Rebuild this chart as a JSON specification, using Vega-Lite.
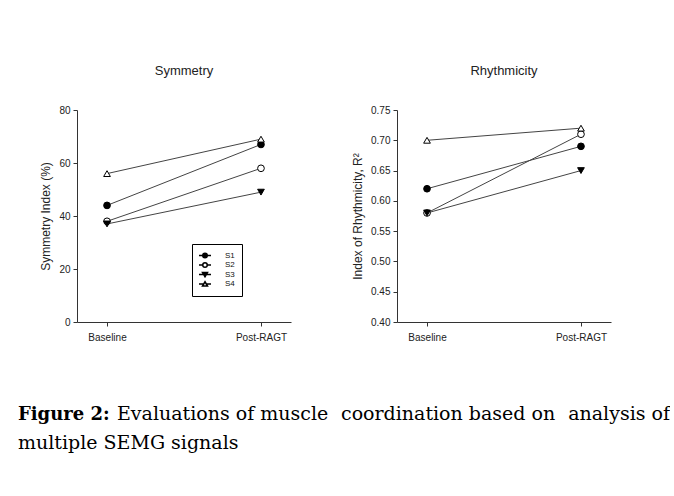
{
  "$schema": "https://vega.github.io/schema/vega-lite/v6.json",
  "background": "white",
  "padding": {"left": 18, "top": 65, "right": 0, "bottom": 0},
  "bounds": "flush",
  "spacing": 106,
  "datasets": {
    "sym": [
      {"subject": "S1", "phase": "Baseline", "value": 44},
      {"subject": "S1", "phase": "Post-RAGT", "value": 67},
      {"subject": "S2", "phase": "Baseline", "value": 38},
      {"subject": "S2", "phase": "Post-RAGT", "value": 58},
      {"subject": "S3", "phase": "Baseline", "value": 37},
      {"subject": "S3", "phase": "Post-RAGT", "value": 49},
      {"subject": "S4", "phase": "Baseline", "value": 56},
      {"subject": "S4", "phase": "Post-RAGT", "value": 69}
    ],
    "rhy": [
      {"subject": "S1", "phase": "Baseline", "value": 0.62},
      {"subject": "S1", "phase": "Post-RAGT", "value": 0.69},
      {"subject": "S2", "phase": "Baseline", "value": 0.58},
      {"subject": "S2", "phase": "Post-RAGT", "value": 0.71},
      {"subject": "S3", "phase": "Baseline", "value": 0.58},
      {"subject": "S3", "phase": "Post-RAGT", "value": 0.65},
      {"subject": "S4", "phase": "Baseline", "value": 0.70},
      {"subject": "S4", "phase": "Post-RAGT", "value": 0.72}
    ]
  },
  "resolve": {"scale": {"shape": "independent", "fill": "independent"}},
  "hconcat": [
    {
      "width": 214,
      "height": 212,
      "data": {"name": "sym"},
      "title": {"text": "Symmetry"},
      "resolve": {"scale": {"shape": "independent", "fill": "independent"}},
      "layer": [
        {
          "mark": {"type": "line", "color": "#444", "strokeWidth": 1},
          "encoding": {
            "x": {"field": "phase", "type": "nominal", "sort": ["Baseline", "Post-RAGT"], "scale": {"type": "point", "padding": 0.195}, "axis": {"title": null, "labelAngle": 0}},
            "y": {"field": "value", "type": "quantitative", "scale": {"domain": [0, 80], "nice": false}, "axis": {"values": [0, 20, 40, 60, 80], "title": "Symmetry Index (%)"}},
            "detail": {"field": "subject"}
          }
        },
        {
          "mark": {"type": "point", "filled": false, "color": "black", "strokeWidth": 1, "size": 45, "opacity": 1},
          "encoding": {
            "x": {"field": "phase", "type": "nominal", "sort": ["Baseline", "Post-RAGT"], "axis": {"title": null, "labelAngle": 0}},
            "y": {"field": "value", "type": "quantitative", "axis": {"values": [0, 20, 40, 60, 80], "title": "Symmetry Index (%)"}},
            "shape": {"field": "subject", "type": "nominal", "scale": {"domain": ["S1", "S2", "S3", "S4"], "range": ["circle", "circle", "triangle-down", "triangle-up"]}, "legend": null},
            "fill": {"field": "subject", "type": "nominal", "scale": {"domain": ["S1", "S2", "S3", "S4"], "range": ["black", "white", "black", "white"]}, "legend": null}
          }
        },
        {
          "transform": [{"filter": "false"}],
          "mark": {"type": "point", "filled": false, "color": "black", "strokeWidth": 1, "opacity": 1},
          "encoding": {
            "x": {"field": "phase", "type": "nominal", "sort": ["Baseline", "Post-RAGT"], "axis": {"title": null, "labelAngle": 0}},
            "y": {"field": "value", "type": "quantitative", "axis": {"values": [0, 20, 40, 60, 80], "title": "Symmetry Index (%)"}},
            "shape": {"field": "subject", "type": "nominal", "scale": {"domain": ["S1", "S2", "S3", "S4"], "range": ["M-1.2,0H-0.45M0.45,0H1.2M0.45,0A0.45,0.45,0,1,1,-0.45,0A0.45,0.45,0,1,1,0.45,0Z", "M-1.2,0H-0.45M0.45,0H1.2M0.45,0A0.45,0.45,0,1,1,-0.45,0A0.45,0.45,0,1,1,0.45,0Z", "M-1.2,0H1.2M-0.5,-0.4L0.5,-0.4L0,0.45Z", "M-1.2,0H-0.27M0.27,0H1.2M0,-0.45L0.5,0.4L-0.5,0.4Z"]},
              "legend": {"title": null, "orient": "none", "legendX": 115, "legendY": 134, "strokeColor": "black", "padding": 7, "rowPadding": 0.5, "clipHeight": 9, "symbolSize": 100, "labelOffset": 14, "labelFontSize": 8, "labelFont": "Liberation Sans", "labelColor": "#111"}},
            "fill": {"field": "subject", "type": "nominal", "scale": {"domain": ["S1", "S2", "S3", "S4"], "range": ["black", "white", "black", "white"]}, "legend": {"title": null}}
          }
        },
        {
          "data": {"values": [{"t": "Figure 2:"}]},
          "mark": {"type": "text", "x": -59, "y": 310, "align": "left", "baseline": "alphabetic", "font": "DejaVu Serif", "fontSize": 18, "fontWeight": "bold", "color": "black"},
          "encoding": {"text": {"field": "t"}}
        },
        {
          "data": {"values": [{"t": "Evaluations of muscle"}]},
          "mark": {"type": "text", "x": 40, "y": 310, "align": "left", "baseline": "alphabetic", "font": "DejaVu Serif", "fontSize": 19, "color": "black"},
          "encoding": {"text": {"field": "t"}}
        },
        {
          "data": {"values": [{"t": "coordination based on"}]},
          "mark": {"type": "text", "x": 264, "y": 310, "align": "left", "baseline": "alphabetic", "font": "DejaVu Serif", "fontSize": 19, "color": "black"},
          "encoding": {"text": {"field": "t"}}
        },
        {
          "data": {"values": [{"t": "analysis of"}]},
          "mark": {"type": "text", "x": 593, "y": 310, "align": "right", "baseline": "alphabetic", "font": "DejaVu Serif", "fontSize": 19, "color": "black"},
          "encoding": {"text": {"field": "t"}}
        },
        {
          "data": {"values": [{"t": "multiple SEMG signals"}]},
          "mark": {"type": "text", "x": -59, "y": 339, "align": "left", "baseline": "alphabetic", "font": "DejaVu Serif", "fontSize": 19, "color": "black"},
          "encoding": {"text": {"field": "t"}}
        }
      ]
    },
    {
      "width": 214,
      "height": 212,
      "data": {"name": "rhy"},
      "title": {"text": "Rhythmicity"},
      "layer": [
        {
          "mark": {"type": "line", "color": "#444", "strokeWidth": 1},
          "encoding": {
            "x": {"field": "phase", "type": "nominal", "sort": ["Baseline", "Post-RAGT"], "scale": {"type": "point", "padding": 0.195}, "axis": {"title": null, "labelAngle": 0}},
            "y": {"field": "value", "type": "quantitative", "scale": {"domain": [0.4, 0.75], "nice": false}, "axis": {"values": [0.4, 0.45, 0.5, 0.55, 0.6, 0.65, 0.7, 0.75], "format": ".2f", "title": "Index of Rhythmicity, R²", "labelOverlap": false}},
            "detail": {"field": "subject"}
          }
        },
        {
          "mark": {"type": "point", "filled": false, "color": "black", "strokeWidth": 1, "size": 45, "opacity": 1},
          "encoding": {
            "x": {"field": "phase", "type": "nominal", "sort": ["Baseline", "Post-RAGT"], "axis": {"title": null, "labelAngle": 0}},
            "y": {"field": "value", "type": "quantitative", "axis": {"values": [0.4, 0.45, 0.5, 0.55, 0.6, 0.65, 0.7, 0.75], "format": ".2f", "title": "Index of Rhythmicity, R²", "labelOverlap": false}},
            "shape": {"field": "subject", "type": "nominal", "scale": {"domain": ["S1", "S2", "S3", "S4"], "range": ["circle", "circle", "triangle-down", "triangle-up"]}, "legend": null},
            "fill": {"field": "subject", "type": "nominal", "scale": {"domain": ["S1", "S2", "S3", "S4"], "range": ["black", "white", "black", "white"]}, "legend": null}
          }
        }
      ]
    }
  ],
  "config": {
    "view": {"stroke": null},
    "axis": {"grid": false, "domainColor": "#333", "tickColor": "#333", "tickSize": 4, "labelFont": "Liberation Sans", "labelFontSize": 10, "labelColor": "#222", "labelPadding": 3, "titleFont": "Liberation Sans", "titleFontSize": 12, "titleFontWeight": "normal", "titleColor": "#222", "titlePadding": 6},
    "axisX": {"labelPadding": 6},
    "title": {"font": "Liberation Sans", "fontSize": 13, "fontWeight": "normal", "color": "#222", "offset": 27}
  }
}
